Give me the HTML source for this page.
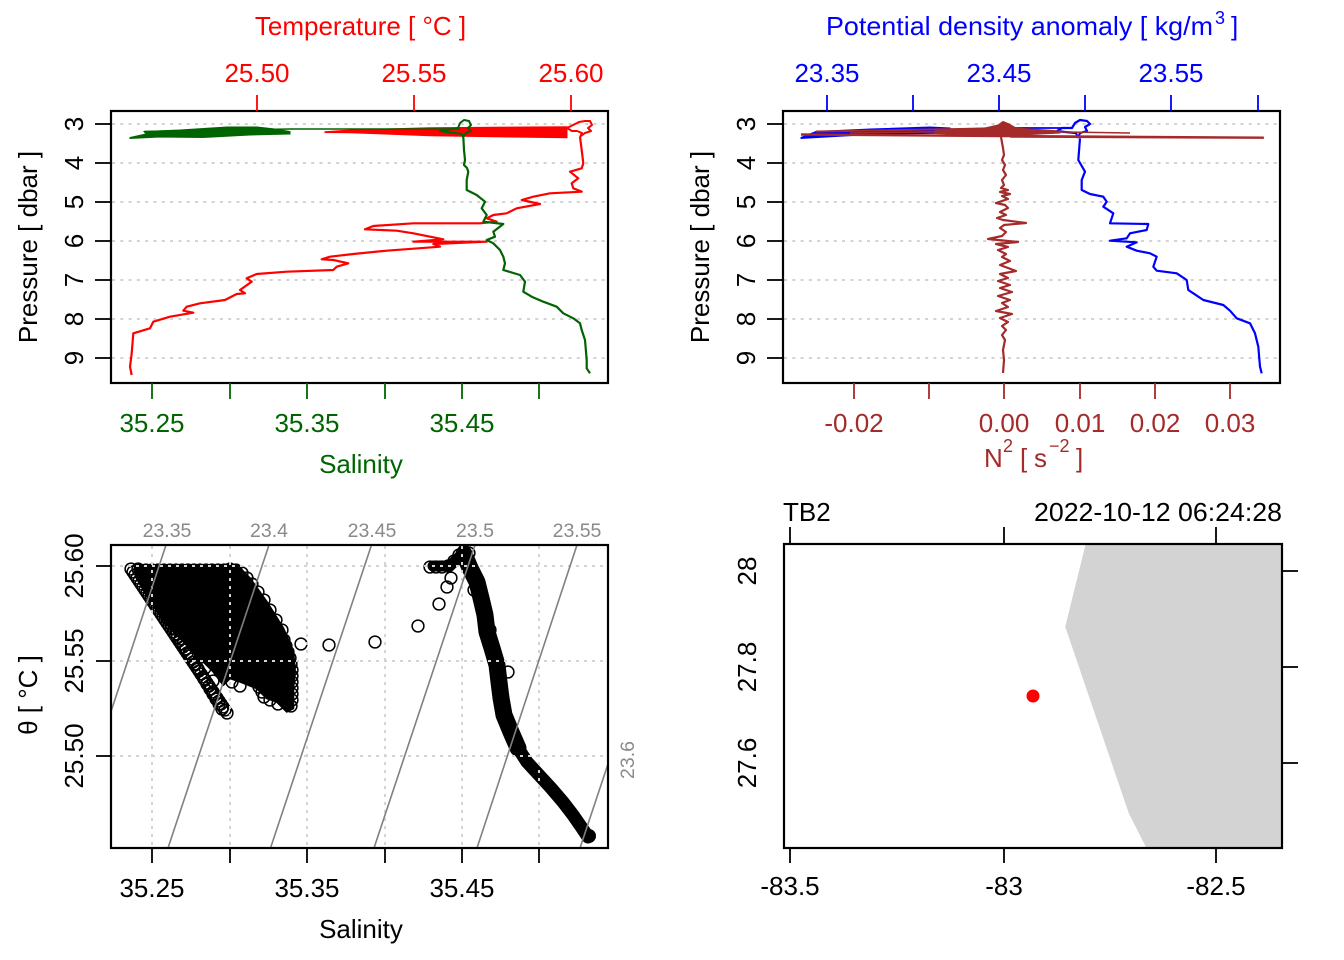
<!DOCTYPE html>
<html>
<head>
<meta charset="utf-8">
<style>
html,body{margin:0;padding:0;background:#fff;}
svg{display:block;}
text{font-family:"Liberation Sans",Arial,sans-serif;}
</style>
</head>
<body>
<svg width="1344" height="960" viewBox="0 0 1344 960" xmlns="http://www.w3.org/2000/svg">
<defs>
<marker id="c" markerUnits="userSpaceOnUse" markerWidth="16" markerHeight="16" refX="8" refY="8" overflow="visible">
<circle cx="8" cy="8" r="5.9" fill="none" stroke="#000" stroke-width="1.5"/>
</marker>
</defs>
<rect width="1344" height="960" fill="#fff"/>

<!-- ================= TOP LEFT PANEL ================= -->
<g stroke="#D3D3D3" stroke-width="2" stroke-dasharray="3 5.3">
<line x1="112" y1="124" x2="607" y2="124"/>
<line x1="112" y1="163" x2="607" y2="163"/>
<line x1="112" y1="202" x2="607" y2="202"/>
<line x1="112" y1="241" x2="607" y2="241"/>
<line x1="112" y1="280" x2="607" y2="280"/>
<line x1="112" y1="319" x2="607" y2="319"/>
<line x1="112" y1="358" x2="607" y2="358"/>
</g>
<!-- green surface -->
<polygon fill="#006400" stroke="#006400" stroke-width="1" points="130,137.5 146,134 144,131.5 180,130 227,127 257,127 275,129 290,131.5 290,134 250,135 203,137.5 160,137 130,138.5"/>
<!-- red surface -->
<polygon fill="#FF0000" stroke="#FF0000" stroke-width="1" points="325,131.7 350,130 430,127.7 567,126.7 567,137.7 510,137 430,135.7 350,132.7 325,132.5"/>
<polyline fill="none" stroke="#FF0000" stroke-width="2" stroke-linejoin="round" points="580,137 582,133 577,131 572,131 567,128 573,125 579,122 585,121 590,121 592,125 588,128 591,131 585,133 581,136"/>
<!-- red main -->
<polyline fill="none" stroke="#FF0000" stroke-width="2.2" stroke-linejoin="round" points="580,136.7 581.7,150 583.3,163.3 581.7,168.3 570,171.7 578.3,178.3 571.7,183.3 573.3,188.3 581.7,191.7 550,193.3 533.3,196.7 521.7,200 540,204 516.7,208.3 506.7,213.3 493.3,215 486.7,218.3 496.7,221.7 480,223.3 413.3,223.3 373.3,226 365,229.3 396.7,230.7 413.3,233.3 433.3,237.3 443.3,239.3 413.3,241.7 486.7,241.7 433.3,244 440,246.7 386.7,250.7 353.3,254 330,256.7 321.7,259.3 333.3,260 348.3,263.3 336.7,266.7 333.3,270 286.7,271.7 256.7,274 246.7,278.3 251.7,281.7 240,290 245,293.3 236.7,294 225,300 200,303.3 186.7,306.7 183.3,310.7 193.3,312.7 170,316.7 153.3,321.7 150,328.3 133.3,333.3 131.7,353.3 130,366.7 131.7,375"/>
<!-- green thin + knot + main -->
<polyline fill="none" stroke="#006400" stroke-width="1.6" points="144,131.5 290,129 460,129"/>
<polyline fill="none" stroke="#006400" stroke-width="2" stroke-linejoin="round" points="463,137 462,134 455,133 447,132 440,131 452,129 458,128 460,123 464,120 469,121 471,125 468,128 471,131 466,133 463,137"/>
<polyline fill="none" stroke="#006400" stroke-width="2.2" stroke-linejoin="round" points="463.3,136.7 464,150 465,160 464,165 467,168 468.3,171.7 466.7,180 466.7,190 476.7,195 485,201.7 481.7,208.3 486.7,215 483.3,221.7 503.3,224 493.3,231.7 495,236.7 486.7,240 493.3,243.3 500,250 503.3,256.7 505,263.3 503.3,270 520,275 525,281.7 523.3,291.7 531.7,296.7 543.3,301.7 556.7,306.7 563.3,313.3 573.3,318.3 580,323.3 581.7,330 585,340 586.7,360 586.7,368.3 590,373.3"/>
<rect x="111" y="111" width="497" height="272" fill="none" stroke="#000" stroke-width="2.2"/>
<!-- left axis -->
<g stroke="#000" stroke-width="1.8">
<line x1="95" y1="124" x2="111" y2="124"/><line x1="95" y1="163" x2="111" y2="163"/><line x1="95" y1="202" x2="111" y2="202"/><line x1="95" y1="241" x2="111" y2="241"/><line x1="95" y1="280" x2="111" y2="280"/><line x1="95" y1="319" x2="111" y2="319"/><line x1="95" y1="358" x2="111" y2="358"/>
</g>
<g font-size="26" fill="#000" text-anchor="middle">
<text transform="translate(83 124) rotate(-90)">3</text>
<text transform="translate(83 163) rotate(-90)">4</text>
<text transform="translate(83 202) rotate(-90)">5</text>
<text transform="translate(83 241) rotate(-90)">6</text>
<text transform="translate(83 280) rotate(-90)">7</text>
<text transform="translate(83 319) rotate(-90)">8</text>
<text transform="translate(83 358) rotate(-90)">9</text>
<text transform="translate(37 247) rotate(-90)">Pressure [ dbar ]</text>
</g>
<!-- top axis red -->
<g stroke="#FF0000" stroke-width="1.8">
<line x1="257" y1="95" x2="257" y2="111"/><line x1="414" y1="95" x2="414" y2="111"/><line x1="571" y1="95" x2="571" y2="111"/>
</g>
<g font-size="26" fill="#FF0000" text-anchor="middle">
<text x="257" y="82">25.50</text><text x="414" y="82">25.55</text><text x="571" y="82">25.60</text>
<text x="360.5" y="35">Temperature [ °C ]</text>
</g>
<!-- bottom axis green -->
<g stroke="#006400" stroke-width="1.8">
<line x1="152" y1="383" x2="152" y2="399"/><line x1="230" y1="383" x2="230" y2="399"/><line x1="307" y1="383" x2="307" y2="399"/><line x1="385" y1="383" x2="385" y2="399"/><line x1="462" y1="383" x2="462" y2="399"/><line x1="539" y1="383" x2="539" y2="399"/>
</g>
<g font-size="26" fill="#006400" text-anchor="middle">
<text x="152" y="432">35.25</text><text x="307" y="432">35.35</text><text x="462" y="432">35.45</text>
<text x="361" y="473">Salinity</text>
</g>

<!-- ================= TOP RIGHT PANEL ================= -->
<g stroke="#D3D3D3" stroke-width="2" stroke-dasharray="3 5.3">
<line x1="784" y1="124" x2="1279" y2="124"/>
<line x1="784" y1="163" x2="1279" y2="163"/>
<line x1="784" y1="202" x2="1279" y2="202"/>
<line x1="784" y1="241" x2="1279" y2="241"/>
<line x1="784" y1="280" x2="1279" y2="280"/>
<line x1="784" y1="319" x2="1279" y2="319"/>
<line x1="784" y1="358" x2="1279" y2="358"/>
</g>
<!-- blue surface -->
<polygon fill="#0000FF" stroke="#0000FF" stroke-width="1" points="801,137.5 816,131.5 870,129 930,127 950,128 950,133 870,134.5 801,138.5"/>
<polyline fill="none" stroke="#0000FF" stroke-width="1.8" points="950,130 1010,128 1063,128"/>
<polyline fill="none" stroke="#0000FF" stroke-width="2.2" stroke-linejoin="round" points="1078,138 1076,133 1065,132 1057,131 1062,128 1072,128 1075,123 1080,120 1087,121 1090,124 1085,127 1087,131 1080,133 1078,138"/>
<!-- blue main -->
<polyline fill="none" stroke="#0000FF" stroke-width="2.2" stroke-linejoin="round" points="1080,138.3 1078.3,160 1085,171.7 1081.7,180 1081.7,190 1090,194 1103.3,196.7 1106.7,201.7 1103.3,206.7 1113.3,213.3 1110,223.3 1148.3,224 1146.7,230 1130,233.3 1126.7,238.3 1110,240.7 1136.7,242.3 1126.7,246.7 1136.7,250.7 1150,253.3 1156.7,256.7 1153.3,266.7 1156.7,270.7 1176.7,273.3 1186.7,280 1188.3,290 1193.3,293.3 1203.3,300 1223.3,305 1230,310.7 1236.7,318.3 1250,323.3 1255,333.3 1258.3,346.7 1260,366.7 1261.7,373.3"/>
<!-- brown surface -->
<polyline fill="none" stroke="#A52A2A" stroke-width="2.4" stroke-linejoin="round" points="801,134.5 1000,136 1263,137.7 1010,136.5"/>
<polyline fill="none" stroke="#A52A2A" stroke-width="2" points="816,131.5 960,129 1003,128"/>
<polyline fill="none" stroke="#A52A2A" stroke-width="1.6" points="850,133 1000,131 1130,133"/>
<polygon fill="#A52A2A" stroke="#A52A2A" stroke-width="1" points="935,131 985,128 998,125 1003,121.5 1009,124 1016,128 1060,131 1060,133 1000,136 935,133.5"/>
<!-- brown main N2 -->
<polyline fill="none" stroke="#A52A2A" stroke-width="2.2" stroke-linejoin="round" points="1001,137 1003,148 1004,155 1002,160 1005,165 1003,170 1006,175 1002,180 1004,185 1001,188 1008,190 1000,192 1010,194 1002,196 1008,199 996,203 1005,205 1008,208 1000,212 1006,215 997,218 1003,220 1026,223 1004,225 1000,228 1006,232 1002,236 988,239 1018,242 996,244 1008,247 998,250 1006,254 1002,257 1010,261 1000,265 1016,271 1000,274 1008,278 998,281 1010,285 1000,288 1012,292 998,296 1010,300 1002,303 1008,307 996,311 1012,314 1000,318 1008,322 1002,326 1006,330 1002,335 1005,340 1003,350 1004,360 1003,373"/>
<rect x="783" y="111" width="497" height="272" fill="none" stroke="#000" stroke-width="2.2"/>
<g stroke="#000" stroke-width="1.8">
<line x1="767" y1="124" x2="783" y2="124"/><line x1="767" y1="163" x2="783" y2="163"/><line x1="767" y1="202" x2="783" y2="202"/><line x1="767" y1="241" x2="783" y2="241"/><line x1="767" y1="280" x2="783" y2="280"/><line x1="767" y1="319" x2="783" y2="319"/><line x1="767" y1="358" x2="783" y2="358"/>
</g>
<g font-size="26" fill="#000" text-anchor="middle">
<text transform="translate(755 124) rotate(-90)">3</text>
<text transform="translate(755 163) rotate(-90)">4</text>
<text transform="translate(755 202) rotate(-90)">5</text>
<text transform="translate(755 241) rotate(-90)">6</text>
<text transform="translate(755 280) rotate(-90)">7</text>
<text transform="translate(755 319) rotate(-90)">8</text>
<text transform="translate(755 358) rotate(-90)">9</text>
<text transform="translate(709 247) rotate(-90)">Pressure [ dbar ]</text>
</g>
<g stroke="#0000FF" stroke-width="1.8">
<line x1="827" y1="95" x2="827" y2="111"/><line x1="913" y1="95" x2="913" y2="111"/><line x1="999" y1="95" x2="999" y2="111"/><line x1="1085" y1="95" x2="1085" y2="111"/><line x1="1171" y1="95" x2="1171" y2="111"/><line x1="1258" y1="95" x2="1258" y2="111"/>
</g>
<g font-size="26" fill="#0000FF">
<text x="827" y="82" text-anchor="middle">23.35</text><text x="999" y="82" text-anchor="middle">23.45</text><text x="1171" y="82" text-anchor="middle">23.55</text>
<text x="826" y="35" textLength="387" lengthAdjust="spacingAndGlyphs">Potential density anomaly [ kg/m</text>
<text x="1215" y="24" font-size="18">3</text>
<text x="1231" y="35">]</text>
</g>
<g stroke="#A52A2A" stroke-width="1.8">
<line x1="854" y1="383" x2="854" y2="399"/><line x1="929" y1="383" x2="929" y2="399"/><line x1="1004" y1="383" x2="1004" y2="399"/><line x1="1080" y1="383" x2="1080" y2="399"/><line x1="1155" y1="383" x2="1155" y2="399"/><line x1="1230" y1="383" x2="1230" y2="399"/>
</g>
<g font-size="26" fill="#A52A2A">
<g text-anchor="middle">
<text x="854" y="432">-0.02</text><text x="1004" y="432">0.00</text><text x="1080" y="432">0.01</text><text x="1155" y="432">0.02</text><text x="1230" y="432">0.03</text>
</g>
<text x="984" y="467">N</text>
<text x="1003" y="452" font-size="18">2</text>
<text x="1020" y="467">[</text>
<text x="1034" y="467">s</text>
<text x="1049" y="452" font-size="18">−2</text>
<text x="1076" y="467">]</text>
</g>

<!-- ================= BOTTOM LEFT PANEL (T-S) ================= -->
<!-- dense cluster -->
<polygon fill="#000" stroke="#000" stroke-width="2" stroke-linejoin="round" points="135,565 237,565 250,578.3 266.7,601.7 283.3,628.3 293.3,651.7 295,671.7 293.3,688.3 293.3,708.3 286.7,711.7 276.7,701.7 266.7,698.3 256.7,688.3 240,681.7 230,678.3 223.3,685 213.3,671.7 196.7,655 170,628.3 150,601.7 136.7,578.3"/>
<polyline fill="none" stroke="none" marker-start="url(#c)" marker-mid="url(#c)" marker-end="url(#c)" points="131,569 133,572 135,575 137,578 139,581 141,584 143,587 145,590 147,593 149,596 151,599 153,602 155,605 157,608 159,611 161,614 163,617 165,620 167,623 169,626 171,629 173,632 175,635 177,638 179,641 181,644 183,647 185,650 187,653 189,656 191,659 193,662 195,665 197,668 199,671 201,674 203,677 205,680 207,683 209,686 211,689 213,692 215,695 217,698 219,701 221,704 223,707 225,710 227,713"/>
<polyline fill="none" stroke="none" marker-start="url(#c)" marker-mid="url(#c)" marker-end="url(#c)" points="138,569 141,574 144,579 147,584 150,589 153,594 156,599 159,604 162,609 165,614 168,619 171,624 174,629 177,634 180,639 183,644 186,649 189,654 192,659 195,664 198,669 201,674 204,679 207,684 210,689 213,694 216,699 219,704 222,709"/>
<polyline fill="none" stroke="none" marker-start="url(#c)" marker-mid="url(#c)" marker-end="url(#c)" points="140,570 146,570 152,570 158,570 164,570 170,570 176,570 182,570 188,570 194,570 200,570 206,570 212,570 218,570 224,570 230,569 236,570 242,573 247,578 252,584 258,592 264,600 270,610 276,620 282,630"/>
<polyline fill="none" stroke="none" marker-start="url(#c)" marker-mid="url(#c)" marker-end="url(#c)" points="284,640 286,646 288,652 290,658 291,664 292,670 292,676 292,682 292,688 292,694 292,700 291,706"/>
<polyline fill="none" stroke="none" marker-start="url(#c)" marker-mid="url(#c)" marker-end="url(#c)" points="250,672 253,677 256,682 259,687 262,692 264,697"/>
<polyline fill="none" stroke="none" marker-start="url(#c)" marker-mid="url(#c)" marker-end="url(#c)" points="205,668 213,681 232,682 240,686 270,700 278,704"/>
<!-- isolated circles -->
<polyline fill="none" stroke="none" marker-start="url(#c)" marker-mid="url(#c)" marker-end="url(#c)" points="301,644 329,645 375,642 418,626 439,604 447,587 451,578"/>
<!-- right trace -->
<polyline fill="none" stroke="#000" stroke-width="11" stroke-linecap="round" stroke-linejoin="round" points="433,566 450,566 458,558 464,552"/>
<polyline fill="none" stroke="none" marker-start="url(#c)" marker-mid="url(#c)" marker-end="url(#c)" points="430,567 436,567 442,567 448,566 454,561 459,555 464,551 469,553"/>
<polyline fill="none" stroke="#000" stroke-width="17" stroke-linecap="round" stroke-linejoin="round" points="464,554 470,568 477,582 481,598 485,615 487,632 492,648 497,665 499,682 501,698 504,715 511,732 518,748"/>
<polyline fill="none" stroke="#000" stroke-width="13" stroke-linecap="round" stroke-linejoin="round" points="518,748 527,762 539,775 551,788 563,802 573,815 582,828 588,837"/>
<polyline fill="none" stroke="none" marker-start="url(#c)" marker-mid="url(#c)" marker-end="url(#c)" points="508,672 516,745 474,590 490,630"/>
<circle cx="589" cy="836" r="7" fill="#000"/>
<!-- grid -->
<g stroke="#D3D3D3" stroke-width="2" stroke-dasharray="3 5">
<line x1="152" y1="546" x2="152" y2="847"/><line x1="230" y1="546" x2="230" y2="847"/><line x1="307" y1="546" x2="307" y2="847"/><line x1="385" y1="546" x2="385" y2="847"/><line x1="462" y1="546" x2="462" y2="847"/><line x1="539" y1="546" x2="539" y2="847"/>
<line x1="112" y1="566" x2="607" y2="566"/><line x1="112" y1="661" x2="607" y2="661"/><line x1="112" y1="756" x2="607" y2="756"/>
</g>
<!-- isopycnals -->
<g stroke="#808080" stroke-width="1.6" fill="none">
<line x1="166" y1="545" x2="111" y2="711.5"/>
<line x1="168" y1="848" x2="269" y2="545"/>
<line x1="270.5" y1="848" x2="371.5" y2="545"/>
<line x1="374" y1="848" x2="475" y2="545"/>
<line x1="477" y1="848" x2="577" y2="545"/>
<line x1="580" y1="848" x2="608" y2="764"/>
</g>
<g font-size="19.5" fill="#8a8a8a" text-anchor="middle">
<text x="167" y="537">23.35</text><text x="269" y="537">23.4</text><text x="372" y="537">23.45</text><text x="475" y="537">23.5</text><text x="577" y="537">23.55</text>
<text transform="translate(634 760) rotate(-90)">23.6</text>
</g>
<rect x="111" y="545" width="497" height="303" fill="none" stroke="#000" stroke-width="2.2"/>
<g stroke="#000" stroke-width="1.8">
<line x1="96" y1="566" x2="111" y2="566"/><line x1="96" y1="661" x2="111" y2="661"/><line x1="96" y1="756" x2="111" y2="756"/>
<line x1="152" y1="848" x2="152" y2="863"/><line x1="230" y1="848" x2="230" y2="863"/><line x1="307" y1="848" x2="307" y2="863"/><line x1="385" y1="848" x2="385" y2="863"/><line x1="462" y1="848" x2="462" y2="863"/><line x1="539" y1="848" x2="539" y2="863"/>
</g>
<g font-size="26" fill="#000" text-anchor="middle">
<text transform="translate(83 566) rotate(-90)">25.60</text>
<text transform="translate(83 661) rotate(-90)">25.55</text>
<text transform="translate(83 756) rotate(-90)">25.50</text>
<text transform="translate(37 695) rotate(-90)">θ [ °C ]</text>
<text x="152" y="897">35.25</text><text x="307" y="897">35.35</text><text x="462" y="897">35.45</text>
<text x="361" y="938">Salinity</text>
</g>

<!-- ================= BOTTOM RIGHT PANEL (map) ================= -->
<polygon fill="#D3D3D3" points="1085.7,544 1282,544 1282,848 1146.4,848 1128.8,813.3 1065.2,626.7"/>
<circle cx="1033" cy="696" r="6.5" fill="#FF0000"/>
<rect x="784" y="544" width="498" height="304" fill="none" stroke="#000" stroke-width="2.2"/>
<g stroke="#000" stroke-width="1.8">
<line x1="790" y1="527" x2="790" y2="544"/><line x1="1004" y1="527" x2="1004" y2="544"/><line x1="1216" y1="527" x2="1216" y2="544"/>
<line x1="790" y1="848" x2="790" y2="863"/><line x1="1004" y1="848" x2="1004" y2="863"/><line x1="1216" y1="848" x2="1216" y2="863"/>
<line x1="1282" y1="571" x2="1298" y2="571"/><line x1="1282" y1="667" x2="1298" y2="667"/><line x1="1282" y1="763" x2="1298" y2="763"/>
</g>
<g font-size="26" fill="#000">
<text x="783" y="521">TB2</text>
<text x="1282" y="521" text-anchor="end" textLength="248" lengthAdjust="spacingAndGlyphs">2022-10-12 06:24:28</text>
<g text-anchor="middle">
<text transform="translate(756 571) rotate(-90)">28</text>
<text transform="translate(756 667) rotate(-90)">27.8</text>
<text transform="translate(756 763) rotate(-90)">27.6</text>
<text x="790" y="895">-83.5</text><text x="1004" y="895">-83</text><text x="1216" y="895">-82.5</text>
</g>
</g>
</svg>
</body>
</html>
